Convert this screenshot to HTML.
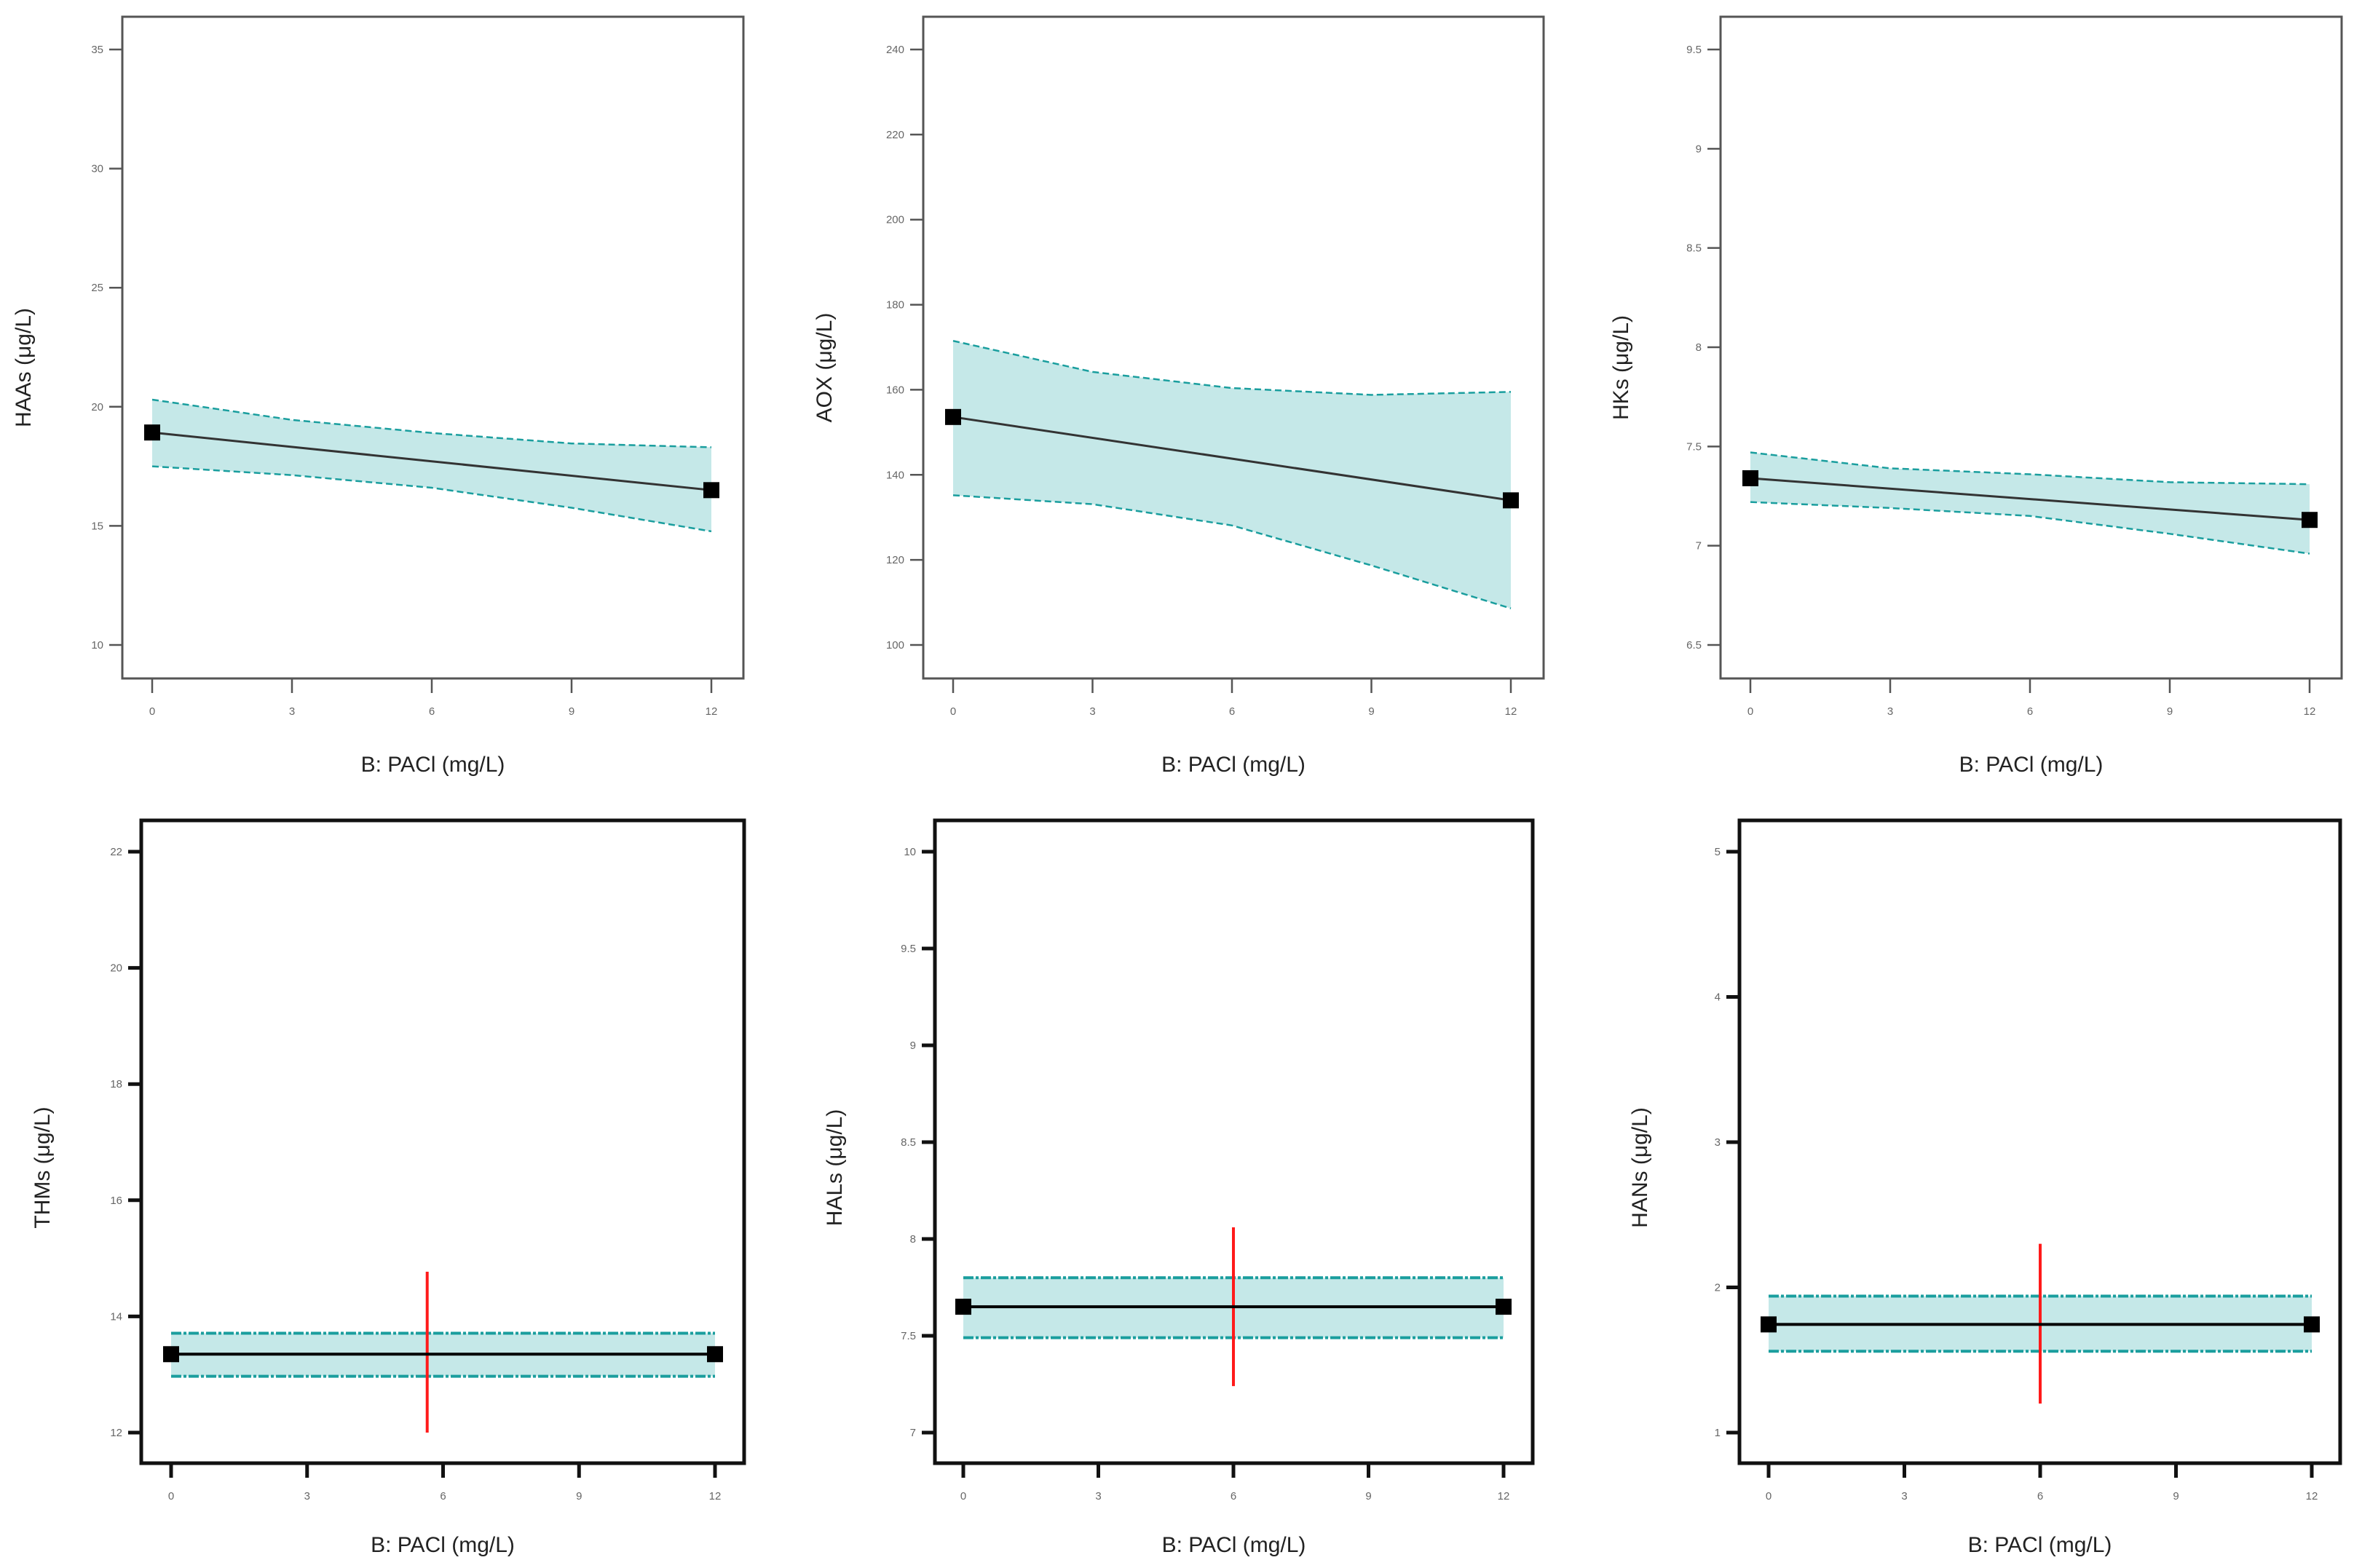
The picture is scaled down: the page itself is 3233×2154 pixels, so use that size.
<!DOCTYPE html>
<html><head><meta charset="utf-8"><style>
html,body{margin:0;padding:0;background:#fff}
svg{display:block}
text{font-family:"Liberation Sans",sans-serif}
</style></head><body>
<svg id="fig" width="3233" height="2154" viewBox="0 0 3233 2154" xmlns="http://www.w3.org/2000/svg"></svg>
<script>
const xTicks = [0, 3, 6, 9, 12];
const bandX = [0, 3, 6, 9, 12];
const haasTicks = [10, 15, 20, 25, 30, 35];
const haasLine = [18.92, 16.5];
const haasUpper = [20.3, 19.45, 18.9, 18.46, 18.3];
const haasLower = [17.5, 17.13, 16.6, 15.76, 14.77];
const aoxTicks = [100, 120, 140, 160, 180, 200, 220, 240];
const aoxLine = [153.6, 134.0];
const aoxUpper = [171.5, 164.2, 160.4, 158.8, 159.5];
const aoxLower = [135.2, 133.1, 128.1, 118.7, 108.6];
const hksTicks = [6.5, 7, 7.5, 8, 8.5, 9, 9.5];
const hksLine = [7.34, 7.13];
const hksUpper = [7.47, 7.39, 7.36, 7.32, 7.31];
const hksLower = [7.22, 7.19, 7.15, 7.06, 6.96];
const thmTicks = [12, 14, 16, 18, 20, 22];
const thmLine = [13.35, 13.35];
const thmUpper = [13.71, 13.71, 13.71, 13.71, 13.71];
const thmLower = [12.97, 12.97, 12.97, 12.97, 12.97];
const thmLsd = [5.65, 12.0, 14.77];
const halTicks = [7, 7.5, 8, 8.5, 9, 9.5, 10];
const halLine = [7.65, 7.65];
const halUpper = [7.80, 7.80, 7.80, 7.80, 7.80];
const halLower = [7.49, 7.49, 7.49, 7.49, 7.49];
const halLsd = [6, 7.24, 8.06];
const hanTicks = [1, 2, 3, 4, 5];
const hanLine = [1.745, 1.745];
const hanUpper = [1.94, 1.94, 1.94, 1.94, 1.94];
const hanLower = [1.56, 1.56, 1.56, 1.56, 1.56];
const hanLsd = [6, 1.20, 2.30];

const NS = "http://www.w3.org/2000/svg";
const svg = document.getElementById('fig');
function mk(tag, attrs, parent){
  const e = document.createElementNS(NS, tag);
  for (const k in attrs) e.setAttribute(k, attrs[k]);
  (parent||svg).appendChild(e);
  return e;
}
function panel(cfg){
  const g = mk('g', {});
  
  
  const t0 = cfg.ticks[0], t1 = cfg.ticks[cfg.ticks.length-1];
  const ys = v => cfg.yTop + (t1 - v) / (t1 - t0) * (cfg.yBot - cfg.yTop);
  const xs = v => cfg.x0 + v / 12 * (cfg.x12 - cfg.x0);
  let pts = bandX.map((x,i)=>xs(x)+','+ys(cfg.upper[i]));
  for (let i = bandX.length-1; i >= 0; i--) pts.push(xs(bandX[i])+','+ys(cfg.lower[i]));
  const band = mk('polygon', {points: pts.join(' '), fill:'#c5e8e8', stroke:'none'}, g);
  
  
  const dash = cfg.bold ? '14,3,4,3' : '9,5';
  const bw = cfg.bold ? 4 : 2.5;
  const up = mk('polyline', {points: bandX.map((x,i)=>xs(x)+','+ys(cfg.upper[i])).join(' '), fill:'none', stroke:'#1a9e9e', 'stroke-width':bw, 'stroke-dasharray':dash}, g);
  
  
  const lo = mk('polyline', {points: bandX.map((x,i)=>xs(x)+','+ys(cfg.lower[i])).join(' '), fill:'none', stroke:'#1a9e9e', 'stroke-width':bw, 'stroke-dasharray':dash}, g);
  
  
  if (cfg.lsd){
    const r = mk('line', {x1:xs(cfg.lsd[0]), x2:xs(cfg.lsd[0]), y1:ys(cfg.lsd[1]), y2:ys(cfg.lsd[2]), stroke:'#ff1a1a', 'stroke-width':4}, g);
    
    
  }
  const ln = mk('line', {x1:xs(0), y1:ys(cfg.line[0]), x2:xs(12), y2:ys(cfg.line[1]), stroke: cfg.bold?'#000':'#333', 'stroke-width': cfg.bold?4:3}, g);
  
  
  [0,1].forEach(i=>{
    const s = 22;
    const m = mk('rect', {x: xs(i*12)-s/2, y: ys(cfg.line[i])-s/2, width:s, height:s, fill:'#000'}, g);
    
    
  });
  const fr = mk('rect', {x:cfg.fx1, y:cfg.fy1, width:cfg.fx2-cfg.fx1, height:cfg.fy2-cfg.fy1, fill:'none', stroke: cfg.bold?'#111':'#555', 'stroke-width': cfg.bold?5:3}, g);
  
  
  const tw = cfg.bold?5:2.5;
  cfg.ticks.forEach(v=>{
    const y = ys(v);
    const tk = mk('line', {x1:cfg.fx1-18, x2:cfg.fx1, y1:y, y2:y, stroke:cfg.bold?'#111':'#555', 'stroke-width':tw}, g);
    
    
    const tl = mk('text', {x:cfg.fx1-26, y:y+5, 'text-anchor':'end', 'font-size':15, fill:'#666'}, g);
    tl.textContent = String(v);
    
    
  });
  xTicks.forEach(v=>{
    const x = xs(v);
    const tk = mk('line', {x1:x, x2:x, y1:cfg.fy2, y2:cfg.fy2+20, stroke:cfg.bold?'#111':'#555', 'stroke-width':tw}, g);
    
    
    const tl = mk('text', {x:x, y:cfg.labY, 'text-anchor':'middle', 'font-size':15, fill:'#666'}, g);
    tl.textContent = String(v);
    
    
  });
  const xt = mk('text', {x:(cfg.fx1+cfg.fx2)/2, y:cfg.titleY, 'text-anchor':'middle', 'font-size':30, fill:'#222'}, g);
  xt.textContent = 'B: PACl (mg/L)';
  
  
  const yt = mk('text', {x:0, y:0, 'text-anchor':'middle', 'font-size':30, fill:'#222', transform:'translate('+cfg.ytX+','+cfg.ytY+') rotate(-90)'}, g);
  yt.textContent = cfg.ylabel;
  
  
}
const topY = {yTop:68, yBot:886, fy1:23, fy2:932, labY:982, titleY:1060, ytY:505};
const botY = {yTop:1170, yBot:1968, fy1:1127, fy2:2010, labY:2060, titleY:2132, ytY:1604};
panel(Object.assign({name:'haas', ylabel:'HAAs   (μg/L)', ticks:haasTicks, line:haasLine, upper:haasUpper, lower:haasLower, fx1:168, fx2:1021, x0:209, x12:977, ytX:42}, topY));
panel(Object.assign({name:'aox', ylabel:'AOX  (μg/L)', ticks:aoxTicks, line:aoxLine, upper:aoxUpper, lower:aoxLower, fx1:1268, fx2:2120, x0:1309, x12:2075, ytX:1142}, topY));
panel(Object.assign({name:'hks', ylabel:'HKs   (μg/L)', ticks:hksTicks, line:hksLine, upper:hksUpper, lower:hksLower, fx1:2363, fx2:3216, x0:2404, x12:3172, ytX:2236}, topY));
panel(Object.assign({name:'thms', ylabel:'THMs (μg/L)', ticks:thmTicks, line:thmLine, upper:thmUpper, lower:thmLower, lsd:thmLsd, bold:true, fx1:194, fx2:1022, x0:235, x12:982, ytX:68}, botY));
panel(Object.assign({name:'hals', ylabel:'HALs   (μg/L)', ticks:halTicks, line:halLine, upper:halUpper, lower:halLower, lsd:halLsd, bold:true, fx1:1284, fx2:2105, x0:1323, x12:2065, ytX:1156}, botY));
panel(Object.assign({name:'hans', ylabel:'HANs   (μg/L)', ticks:hanTicks, line:hanLine, upper:hanUpper, lower:hanLower, lsd:hanLsd, bold:true, fx1:2389, fx2:3214, x0:2429, x12:3175, ytX:2262}, botY));
</script>
</body></html>
